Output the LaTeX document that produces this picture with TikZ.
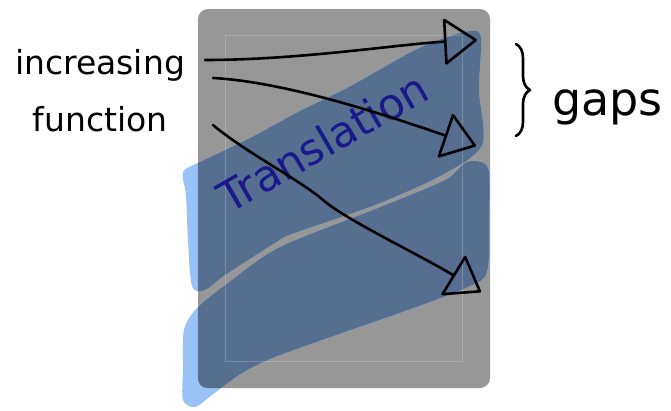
\documentclass[tikz,border=0pt]{standalone}
\usepackage{fontspec}
\setmainfont{DejaVu Sans}
\usepackage{tikz}
\usetikzlibrary{arrows.meta, decorations.pathreplacing}
\definecolor{mygray}{RGB}{151,151,151}
\definecolor{myblue}{RGB}{86,111,145}
\definecolor{mylightblue}{RGB}{153,194,247}
\definecolor{mynavy}{RGB}{26,24,138}
\tikzstyle{pen} = [line width=2.6pt, line cap=round, line join=round, black]
\tikzstyle{arrow} = [pen, -{Triangle[open, round, length=34pt, width=48pt]}]
\def\bandA{plot[smooth cycle] coordinates {(183,172) (200,162) (250,138) (300,111) (347,88) (413,51) (447,37) (472,31) (481,38) (479,90) (482,145) (442,175) (375,205) (292,234) (275,243) (225,275) (205,290) (192,286) (188,240) (186,195)}}
\def\bandB{plot[smooth cycle] coordinates {(488,168) (467,162) (445,180) (378,208) (280,247) (228,283) (197,308) (184,330) (183,370) (183,400) (195,407) (212,395) (242,373) (275,357) (342,333) (408,310) (468,287) (487,272) (489,220)}}

\begin{document}
\begin{tikzpicture}[x=1pt, y=-1pt, >=Stealth]
\useasboundingbox (0,0) rectangle (671,410);

% board
\node[
    fill=mygray,
    rounded corners=10pt,
    inner sep=0pt,
    minimum width=292pt,
    minimum height=379pt
] (board) at (344,198.5) {};

% highlighter strokes
\fill[mylightblue] \bandA;
\fill[mylightblue] \bandB;
\begin{scope}
\clip[rounded corners=10pt] (board.south west) rectangle (board.north east);
\fill[myblue] \bandA;
\fill[myblue] \bandB;
\end{scope}
\draw[white, opacity=0.2, line width=0.8pt] (225,35) rectangle (462,361);

% labels
\node[
    font=\fontsize{33}{57}\selectfont,
    align=center
] (inc) at (100,91) {increasing\\function};

\node[
    font=\fontsize{43}{50}\selectfont,
    text=mynavy,
    rotate=30,
    anchor=base
] (trans) at (331,156) {Translation};

\node[
    font=\fontsize{46}{56}\selectfont,
    anchor=base west,
    inner sep=0pt
] (gaps) at (552,115) {gaps};

\draw[pen, decorate, decoration={brace, amplitude=14pt}] (516,44) -- (516,136);

% arrows
\coordinate (s1) at (205,60);
\coordinate (e1) at (477,40);
\coordinate (s2) at (213,78);
\coordinate (e2) at (476,146);
\coordinate (s3) at (213,125);
\coordinate (e3) at (481,292);

\draw[arrow] (s1) .. controls (300,60) and (400,44) .. (e1);
\draw[arrow] (s2) .. controls (290,82) and (400,120) .. (e2);
\draw[arrow] (s3) .. controls (245,152) and (300,180) .. (323,200)
    .. controls (346,220) and (420,255) .. (e3);

\end{tikzpicture}
\end{document}
